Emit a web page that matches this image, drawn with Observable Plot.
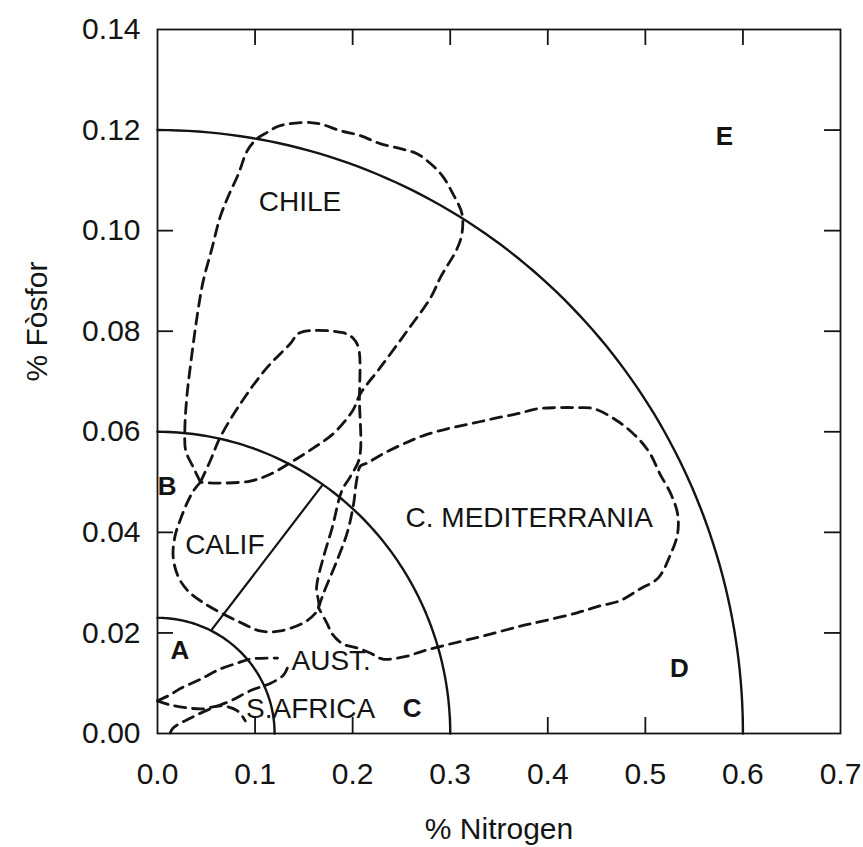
<!DOCTYPE html>
<html>
<head>
<meta charset="utf-8">
<script src="https://cdn.jsdelivr.net/npm/d3@7"></script>
<script src="https://cdn.jsdelivr.net/npm/@observablehq/plot@0.6"></script>
<style>
  html, body { margin: 0; padding: 0; background: #fff; }
</style>
</head>
<body>
<div id="chart"></div>
<script>
// ---------- Data ----------
const xTicks = [0, 0.1, 0.2, 0.3, 0.4, 0.5, 0.6, 0.7];
const yTicks = [0, 0.02, 0.04, 0.06, 0.08, 0.10, 0.12, 0.14];

// quarter-ellipse boundaries: [radius N, radius P]
const arcRadiiN = [0.12, 0.30, 0.60];
const arcRadiiP = [0.023, 0.06, 0.12];

// solid divider between A and B
const dividerN = [0.0558, 0.1686];
const dividerP = [0.0207, 0.0493];

// dashed regions
const chileN = [0.044,0.037,0.029,0.028,0.030,0.034,0.041,0.047,0.056,0.064,0.072,0.083,0.092,0.102,0.112,0.123,0.136,0.157,0.169,0.187,0.208,0.228,0.249,0.266,0.280,0.292,0.302,0.312,0.312,0.307,0.290,0.280,0.256,0.228,0.208,0.200,0.180,0.160,0.139,0.116,0.095,0.057];
const chileP = [0.0500,0.0528,0.0562,0.0602,0.0668,0.0735,0.0835,0.0901,0.0966,0.1026,0.1066,0.1113,0.1159,0.1183,0.1195,0.1207,0.1213,0.1215,0.1211,0.1199,0.1189,0.1173,0.1163,0.1153,0.1133,0.1109,0.1076,0.1034,0.0994,0.0964,0.0907,0.0867,0.0801,0.0727,0.0676,0.0642,0.0596,0.0568,0.0542,0.0516,0.0502,0.0498];

const califN = [0.044,0.054,0.064,0.085,0.112,0.136,0.146,0.190,0.200,0.206,0.207,0.207,0.198,0.189,0.179,0.169,0.163,0.165,0.153,0.126,0.105,0.088,0.067,0.047,0.031,0.021,0.016,0.018,0.023,0.030,0.037];
const califP = [0.0500,0.0542,0.0588,0.0656,0.0727,0.0775,0.0797,0.0797,0.0787,0.0767,0.0662,0.0548,0.0512,0.0483,0.0409,0.0343,0.0290,0.0250,0.0224,0.0204,0.0204,0.0218,0.0238,0.0260,0.0284,0.0313,0.0353,0.0393,0.0423,0.0457,0.0483];

const medN = [0.165,0.170,0.185,0.195,0.201,0.204,0.208,0.215,0.231,0.252,0.272,0.297,0.321,0.344,0.369,0.390,0.410,0.430,0.447,0.471,0.492,0.505,0.515,0.526,0.533,0.533,0.526,0.513,0.495,0.474,0.454,0.430,0.396,0.369,0.334,0.300,0.272,0.256,0.231,0.218,0.205,0.190,0.179,0.174];
const medP = [0.0250,0.0278,0.0349,0.0403,0.0457,0.0502,0.0532,0.0538,0.0556,0.0576,0.0592,0.0606,0.0616,0.0626,0.0636,0.0646,0.0648,0.0648,0.0646,0.0622,0.0588,0.0556,0.0516,0.0477,0.0437,0.0397,0.0357,0.0309,0.0288,0.0264,0.0254,0.0240,0.0224,0.0212,0.0194,0.0178,0.0164,0.0154,0.0148,0.0160,0.0170,0.0178,0.0198,0.0218];

const austN = [0.000,0.013,0.023,0.044,0.064,0.082,0.095,0.123];
const austP = [0.0065,0.0077,0.0089,0.0108,0.0128,0.0140,0.0148,0.0150];

const safUpperN = [0.013,0.016,0.034,0.054,0.075,0.095,0.116,0.129,0.133];
const safUpperP = [0.0001,0.0011,0.0031,0.0049,0.0065,0.0085,0.0100,0.0116,0.0130];

const safLowerN = [0.000,0.013,0.030,0.047,0.057,0.067,0.082,0.090];
const safLowerP = [0.0065,0.0057,0.0051,0.0049,0.0053,0.0055,0.0045,0.0025];

// labels
const regionNames = ["CHILE", "CALIF", "C. MEDITERRANIA", "AUST.", "S.AFRICA"];
const regionLabelN = [0.146, 0.069, 0.381, 0.178, 0.157];
const regionLabelP = [0.1056, 0.0375, 0.0428, 0.0144, 0.0049];

const zoneNames = ["A", "B", "C", "D", "E"];
const zoneLabelN = [0.023, 0.010, 0.261, 0.535, 0.581];
const zoneLabelP = [0.0164, 0.0490, 0.0049, 0.0128, 0.1187];

const xTitle = "% Nitrogen";
const yTitle = "% Fòsfor";

// ---------- Build tables ----------
function pathRows(id, ns, ps, closed) {
  const rows = ns.map((n, i) => ({id, n, p: ps[i]}));
  if (closed) rows.push({...rows[0]});
  return rows;
}
const closedPaths = [
  ...pathRows("chile", chileN, chileP, true),
  ...pathRows("calif", califN, califP, true),
  ...pathRows("med", medN, medP, true)
];
const openPaths = [
  ...pathRows("aust", austN, austP, false),
  ...pathRows("safU", safUpperN, safUpperP, false),
  ...pathRows("safL", safLowerN, safLowerP, false)
];
const arcs = [];
arcRadiiN.forEach((rn, k) => {
  const rp = arcRadiiP[k];
  d3.range(0, 91).forEach(deg => {
    const t = deg * Math.PI / 180;
    arcs.push({id: k, n: rn * Math.cos(t), p: rp * Math.sin(t)});
  });
});
const divider = dividerN.map((n, i) => ({n, p: dividerP[i]}));
const regionLabels = regionNames.map((t, i) => ({t, n: regionLabelN[i], p: regionLabelP[i]}));
const zoneLabels = zoneNames.map((t, i) => ({t, n: zoneLabelN[i], p: zoneLabelP[i]}));

// ---------- Layout ----------
const W = 863, H = 847;
const mL = 157, mR = 23, mT = 29, mB = 114;
const plotW = W - mL - mR, plotH = H - mT - mB;
const tickLen = 16;
const ink = "#141414";
const innerX = xTicks.slice(1, -1), innerY = yTicks.slice(1, -1);

const chart = Plot.plot({
  width: W, height: H,
  marginLeft: mL, marginRight: mR, marginTop: mT, marginBottom: mB,
  x: {domain: [0, 0.7], axis: null},
  y: {domain: [0, 0.14], axis: null},
  style: {fontFamily: "'Liberation Sans', Arial, sans-serif", background: "#fff", color: ink},
  marks: [
    // arcs and divider
    Plot.line(arcs, {x: "n", y: "p", z: "id", stroke: ink, strokeWidth: 2.4}),
    Plot.line(divider, {x: "n", y: "p", stroke: ink, strokeWidth: 2.2}),
    // dashed regions
    Plot.line(closedPaths, {x: "n", y: "p", z: "id", stroke: ink, strokeWidth: 2.8,
      strokeDasharray: "11,7", curve: "catmull-rom"}),
    Plot.line(openPaths, {x: "n", y: "p", z: "id", stroke: ink, strokeWidth: 2.8,
      strokeDasharray: "11,7", curve: "catmull-rom"}),
    // frame and inward ticks
    Plot.frame({stroke: ink, strokeWidth: 1.8}),
    Plot.ruleX(innerX, {x: d => d, insetTop: plotH - tickLen, stroke: ink, strokeWidth: 1.8}),
    Plot.ruleX(innerX, {x: d => d, insetBottom: plotH - tickLen, stroke: ink, strokeWidth: 1.8}),
    Plot.ruleY(innerY, {y: d => d, insetRight: plotW - tickLen, stroke: ink, strokeWidth: 1.8}),
    Plot.ruleY(innerY, {y: d => d, insetLeft: plotW - tickLen, stroke: ink, strokeWidth: 1.8}),
    // tick labels
    Plot.text(xTicks, {x: d => d, frameAnchor: "bottom", dy: 50, text: d => d.toFixed(1),
      fontSize: 30, fill: ink}),
    Plot.text(yTicks, {y: d => d, frameAnchor: "left", dx: -17, textAnchor: "end",
      text: d => d.toFixed(2), fontSize: 30, fill: ink}),
    // axis titles
    Plot.text([xTitle], {frameAnchor: "bottom", dy: 105, text: d => d, fontSize: 30, fill: ink}),
    Plot.text([yTitle], {frameAnchor: "left", dx: -120, rotate: -90, text: d => d, fontSize: 30, fill: ink}),
    // region labels
    Plot.text(regionLabels, {x: "n", y: "p", text: "t", fontSize: 28, fill: ink}),
    Plot.text(zoneLabels, {x: "n", y: "p", text: "t", fontSize: 26, fontWeight: "bold", fill: ink})
  ]
});
document.getElementById("chart").appendChild(chart);
</script>
</body>
</html>
